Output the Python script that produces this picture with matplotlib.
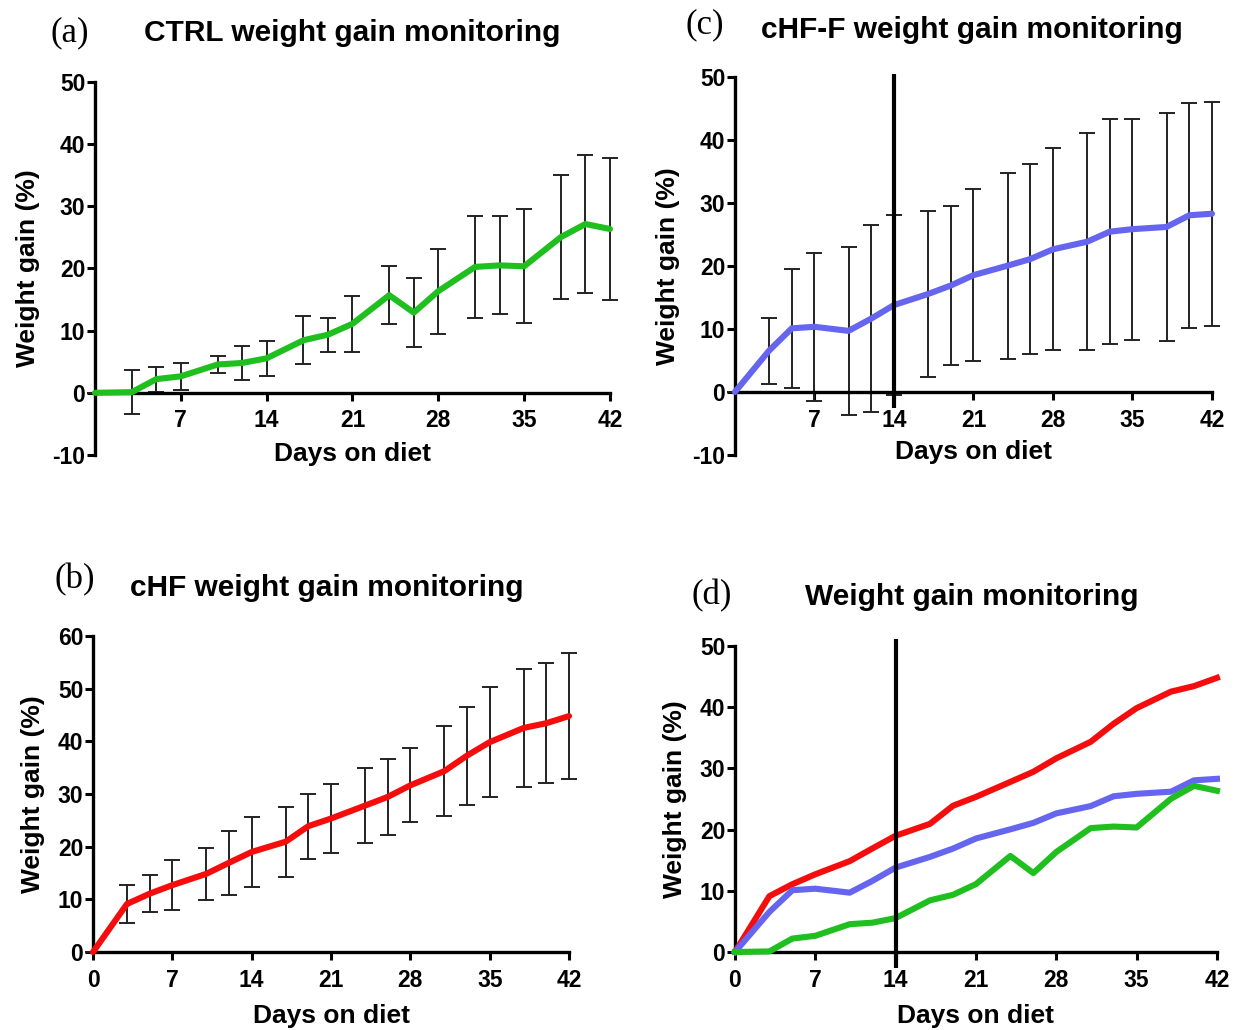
import matplotlib
matplotlib.use("Agg")
import matplotlib.pyplot as plt

plt.rcParams["font.family"] = ["Liberation Sans", "DejaVu Sans"]
plt.rcParams["font.weight"] = "bold"
plt.rcParams["axes.unicode_minus"] = False

# Measurement days
days = [0, 3, 5, 7, 10, 12, 14, 17, 19, 21, 24, 26, 28, 31, 33, 35, 38, 40, 42]

# CTRL group: mean weight gain (%) and SD
ctrl_mean = [0, 0.1, 2.2, 2.65, 4.55, 4.8, 5.55, 8.45, 9.35, 11.1, 15.7, 12.9,
             16.35, 20.25, 20.5, 20.35, 25.05, 27.15, 26.35]
ctrl_sd = [0, 3.5, 2.0, 2.15, 1.35, 2.7, 2.85, 3.85, 2.75, 4.5, 4.7, 5.5,
           6.85, 8.25, 7.9, 9.15, 9.95, 11.05, 11.35]

# cHF group
chf_mean = [0, 9.13, 11.08, 12.7, 14.85, 16.95, 19.0, 20.95, 23.9, 25.35, 27.8,
            29.45, 31.65, 34.35, 37.3, 39.85, 42.55, 43.45, 44.8]
chf_sd = [0, 3.63, 3.57, 4.7, 4.93, 6.03, 6.6, 6.63, 6.2, 6.48, 7.1, 7.26,
          7.05, 8.53, 9.3, 10.4, 11.2, 11.35, 12.0]

# cHF-F group
chff_mean = [0, 6.55, 10.1, 10.35, 9.7, 11.65, 13.8, 15.55, 16.9, 18.55, 20.05,
             21.1, 22.65, 23.85, 25.45, 25.85, 26.2, 28.05, 28.3]
chff_sd = [0, 5.25, 9.4, 11.75, 13.3, 14.85, 14.3, 13.25, 12.6, 13.65, 14.75,
           15.1, 16.05, 17.25, 17.85, 17.55, 18.1, 17.85, 17.8]

switch_day = 14
x_ticks = [0, 7, 14, 21, 28, 35, 42]

green = "#1fbf1f"
red = "#f50d0d"
blue = "#6565ef"

LW = 4.4
fig = plt.figure(figsize=(12.4, 10.3), dpi=100)


def prism_axes(rect, ylim, yticks, zero_axis, show_zero_label):
    ax = fig.add_axes(rect)
    ax.set_xlim(0, 42)
    ax.set_ylim(*ylim)
    ax.spines["top"].set_visible(False)
    ax.spines["right"].set_visible(False)
    for s in ("left", "bottom"):
        ax.spines[s].set_linewidth(2.4)
    if zero_axis:
        ax.spines["bottom"].set_position(("data", 0))
    ax.set_yticks(yticks)
    if show_zero_label:
        ax.set_xticks(x_ticks)
    else:
        ax.set_xticks(x_ticks[1:])
    ax.tick_params(width=2.2, length=6, labelsize=16.5, direction="out")
    ax.tick_params(axis="x", pad=6)
    ax.tick_params(axis="y", pad=1)
    for lab in ax.get_xticklabels() + ax.get_yticklabels():
        lab.set_fontweight("bold")
    ax.set_ylabel("Weight gain (%)", fontsize=19, fontweight="bold", labelpad=9)
    ax.patch.set_alpha(0)
    return ax


def draw_group(ax, mean, sd, color):
    ax.errorbar(days, mean, yerr=sd, fmt="none", ecolor="#222222",
                elinewidth=1.4, capsize=5.5, capthick=1.4, zorder=2, clip_on=False)
    ax.plot(days, mean, color=color, lw=LW, zorder=3, clip_on=False,
            solid_capstyle="round")


# (a) CTRL
ax_a = prism_axes([0.0766, 0.5583, 0.4153, 0.3621], (-10, 50),
                  range(-10, 51, 10), True, False)
draw_group(ax_a, ctrl_mean, ctrl_sd, green)
ax_a.set_xlabel("Days on diet", fontsize=19, fontweight="bold")
ax_a.xaxis.set_label_coords(0.5, 0.035)

# (c) cHF-F
ax_c = prism_axes([0.5927, 0.5583, 0.3847, 0.3669], (-10, 50),
                  range(-10, 51, 10), True, False)
draw_group(ax_c, chff_mean, chff_sd, blue)
ax_c.vlines(switch_day, -2.5, 50.5, color="black", lw=3, zorder=4, clip_on=False)
ax_c.set_xlabel("Days on diet", fontsize=19, fontweight="bold")
ax_c.xaxis.set_label_coords(0.5, 0.04)

# (b) cHF
ax_b = prism_axes([0.075, 0.0757, 0.3839, 0.3068], (0, 60),
                  range(0, 61, 10), False, True)
draw_group(ax_b, chf_mean, chf_sd, red)
ax_b.set_xlabel("Days on diet", fontsize=19, fontweight="bold", labelpad=9)

# (d) all groups
ax_d = prism_axes([0.5927, 0.0757, 0.3887, 0.2971], (0, 50),
                  range(0, 51, 10), False, True)
ax_d.plot(days, chf_mean, color=red, lw=LW, zorder=3, clip_on=False)
ax_d.plot(days, chff_mean, color=blue, lw=LW, zorder=3, clip_on=False)
ax_d.plot(days, ctrl_mean, color=green, lw=LW, zorder=3, clip_on=False)
ax_d.vlines(switch_day, -2.6, 51.2, color="black", lw=3, zorder=4, clip_on=False)
ax_d.set_xlabel("Days on diet", fontsize=19, fontweight="bold", labelpad=9)

# panel titles and letters
titles = [
    (0.284, 0.968, "CTRL weight gain monitoring", 0.0565, 0.968, "(a)"),
    (0.784, 0.971, "cHF-F weight gain monitoring", 0.5685, 0.976, "(c)"),
    (0.2637, 0.429, "cHF weight gain monitoring", 0.0605, 0.437, "(b)"),
    (0.784, 0.420, "Weight gain monitoring", 0.574, 0.422, "(d)"),
]
for tx, ty, title, lx, ly, letter in titles:
    fig.text(tx, ty, title, ha="center", va="center", fontsize=21.5,
             fontweight="bold")
    fig.text(lx, ly, letter, ha="center", va="center", fontsize=25,
             fontweight="normal", family="Liberation Serif")

fig.savefig("out.png", dpi=100)
